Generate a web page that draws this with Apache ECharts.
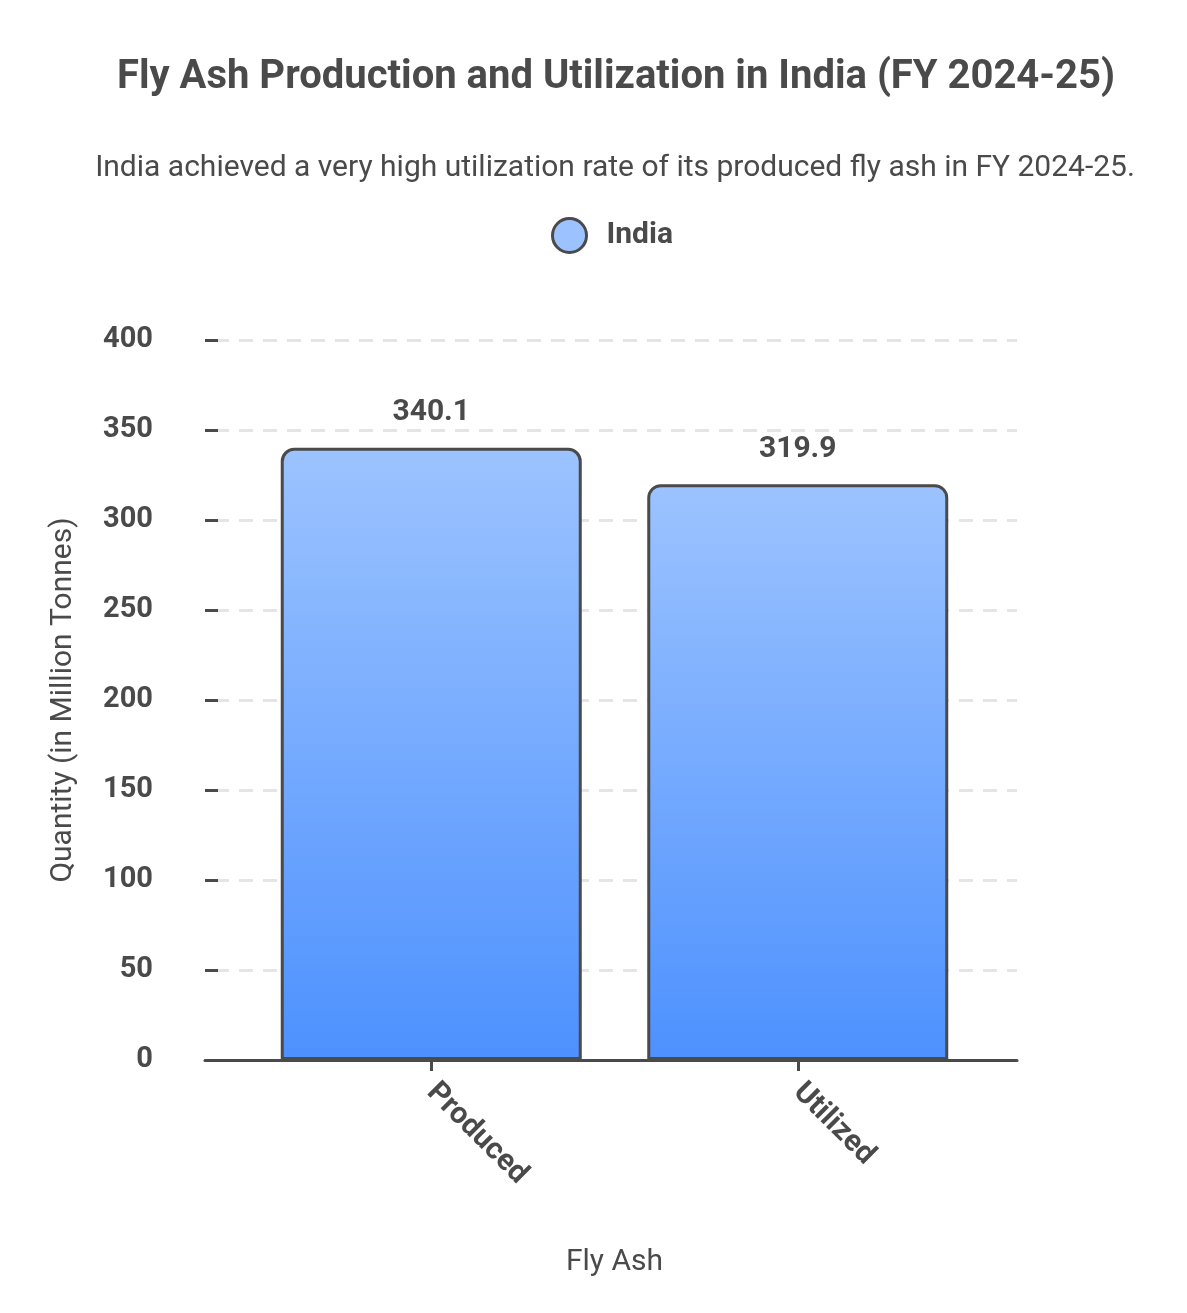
<!DOCTYPE html>
<html>
<head>
<meta charset="utf-8">
<script src="https://cdn.jsdelivr.net/npm/echarts@6/dist/echarts.min.js"></script>
<style>
  html, body { margin: 0; padding: 0; background: #fff; }
  #chart { width: 1187px; height: 1313px; }
</style>
</head>
<body>
<div id="chart"></div>
<script>
// data
var categories = ['Produced', 'Utilized'];
var seriesName = 'India';
var values = [340.1, 319.9];
var yMin = 0, yMax = 400, yStep = 50;

var textColor = '#4a4a4a';
var fontFamily = 'Roboto, "Noto Sans", sans-serif';

var chart = echarts.init(document.getElementById('chart'));

var option = {
    backgroundColor: '#ffffff',
    textStyle: { fontFamily: fontFamily, color: textColor },
    title: [{
        text: 'Fly Ash Production and Utilization in India (FY 2024-25)',
        left: 611, top: 53, textAlign: 'center',
        textStyle: { fontSize: 40, fontWeight: 'bold', color: textColor, fontFamily: fontFamily }
    }, {
        text: 'India achieved a very high utilization rate of its produced fly ash in FY 2024-25.',
        left: 610, top: 148, textAlign: 'center',
        textStyle: { fontSize: 30, fontWeight: 'normal', color: textColor, fontFamily: fontFamily }
    }],
    legend: {
        data: [seriesName],
        top: 212, left: 546,
        icon: 'circle',
        itemWidth: 34, itemHeight: 34,
        itemStyle: { color: '#9cc3ff', borderColor: textColor, borderWidth: 3 },
        textStyle: { fontSize: 30, fontWeight: 'bold', color: textColor, fontFamily: fontFamily, padding: [0, 0, 0, 15] }
    },
    // grid 0 : axis line + grid lines, grid 1 : bars
    grid: [
        { left: 205, right: 170, top: 340, bottom: 253 },
        { left: 248, right: 206, top: 340, bottom: 253 }
    ],
    xAxis: [{
        gridIndex: 0, type: 'value', min: 0, max: 1,
        axisLine: { show: true, lineStyle: { color: textColor, width: 3 } },
        axisTick: { show: false }, axisLabel: { show: false }, splitLine: { show: false }
    }, {
        gridIndex: 1, type: 'category', data: categories,
        name: 'Fly Ash', nameLocation: 'middle', nameGap: 187,
        nameTextStyle: { fontSize: 30, color: textColor, fontFamily: fontFamily },
        axisLine: { show: false },
        axisTick: { show: true, alignWithLabel: true, length: 11, lineStyle: { color: textColor, width: 3 } },
        axisLabel: { rotate: -45, margin: 28, fontSize: 30, fontWeight: 'bold', color: textColor, fontFamily: fontFamily },
        splitLine: { show: false }
    }],
    yAxis: [{
        gridIndex: 0, type: 'value', min: yMin, max: yMax, interval: yStep,
        name: 'Quantity (in Million Tonnes)', nameLocation: 'middle', nameGap: 127,
        nameTextStyle: { fontSize: 30, color: textColor, fontFamily: fontFamily },
        axisLine: { show: false },
        axisTick: { show: true, inside: true, length: 13, lineStyle: { color: textColor, width: 3 } },
        axisLabel: { margin: 52, fontSize: 29, fontWeight: 'bold', color: textColor, fontFamily: fontFamily, padding: [7, 0, 0, 0] },
        splitLine: { show: true, lineStyle: { color: '#e5e5e5', width: 3, type: [14, 10], dashOffset: 14 } }
    }, {
        gridIndex: 1, type: 'value', min: yMin, max: yMax, interval: yStep, show: false,
        splitLine: { show: false }
    }],
    series: [{
        name: seriesName,
        type: 'bar',
        xAxisIndex: 1, yAxisIndex: 1,
        data: values,
        barWidth: 301,
        itemStyle: {
            color: new echarts.graphic.LinearGradient(0, 0, 0, 1, [
                { offset: 0, color: '#9cc3ff' },
                { offset: 1, color: '#4d91fe' }
            ]),
            borderColor: textColor,
            borderWidth: 3,
            borderRadius: [12, 12, 0, 0]
        },
        label: {
            show: true, position: 'top', distance: 20,
            fontSize: 30, fontWeight: 'bold', color: textColor, fontFamily: fontFamily
        }
    }]
};

chart.setOption(option);
</script>
</body>
</html>
